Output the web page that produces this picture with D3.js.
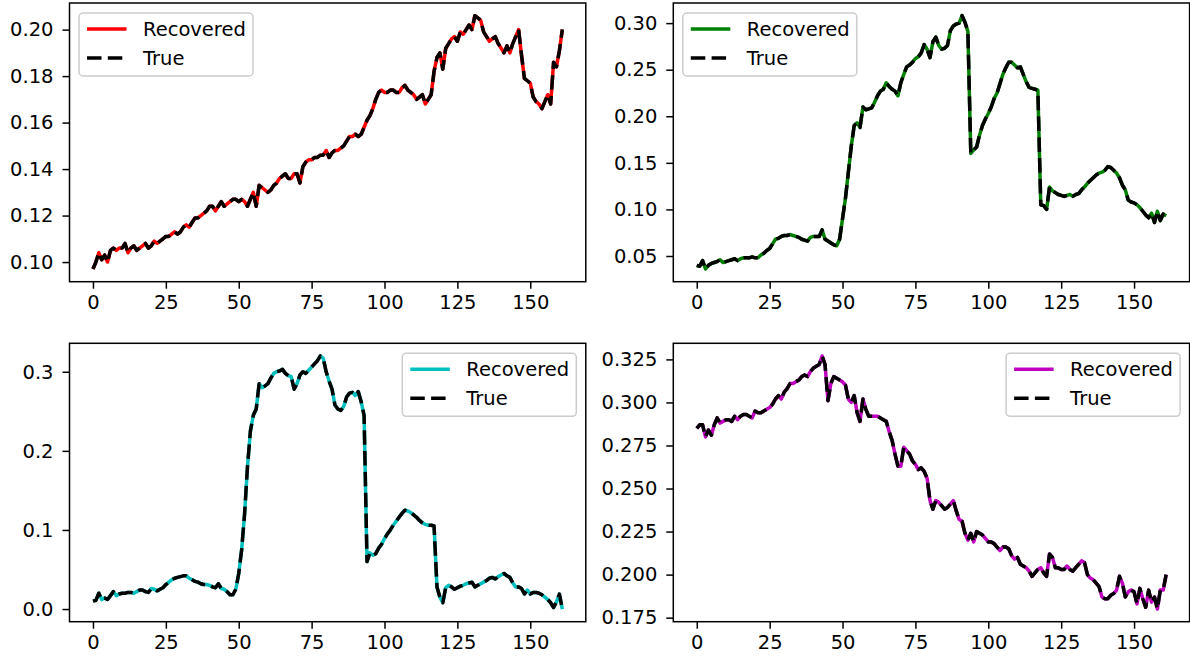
<!DOCTYPE html>
<html>
<head>
<meta charset="utf-8">
<script src="https://cdn.jsdelivr.net/npm/d3@7"></script>
<style>
  body { margin: 0; background: #fff; }
  svg { display: block; }
  text { font-family: "DejaVu Sans", sans-serif; fill: #000; }
</style>
</head>
<body>
<svg id="fig" width="1190" height="660"></svg>
<script>
// Time steps shared by all four panels
const steps = d3.range(162);
const xTicks = [0, 25, 50, 75, 100, 125, 150];
const legendLabels = ["Recovered", "True"];

// Panel 1 (red)
const seriesA = [
  0.097,0.100,0.104,0.101,0.103,0.100,0.105,0.106,0.105,0.106,
  0.106,0.108,0.104,0.106,0.107,0.105,0.106,0.107,0.108,0.106,
  0.107,0.109,0.108,0.109,0.110,0.111,0.111,0.112,0.113,0.112,
  0.113,0.115,0.116,0.115,0.117,0.119,0.119,0.120,0.121,0.122,
  0.124,0.124,0.122,0.124,0.126,0.124,0.125,0.126,0.127,0.127,
  0.126,0.127,0.126,0.124,0.127,0.130,0.124,0.133,0.132,0.131,
  0.130,0.131,0.133,0.134,0.136,0.137,0.138,0.136,0.136,0.138,
  0.138,0.134,0.141,0.143,0.144,0.144,0.145,0.145,0.146,0.146,
  0.148,0.145,0.147,0.148,0.148,0.149,0.150,0.152,0.154,0.154,
  0.155,0.154,0.155,0.158,0.161,0.163,0.166,0.170,0.173,0.174,
  0.173,0.173,0.174,0.174,0.173,0.173,0.175,0.176,0.174,0.173,
  0.172,0.170,0.171,0.172,0.168,0.170,0.172,0.182,0.188,0.190,
  0.183,0.192,0.194,0.196,0.197,0.195,0.199,0.198,0.200,0.202,
  0.200,0.206,0.205,0.204,0.199,0.197,0.195,0.196,0.197,0.194,
  0.192,0.190,0.193,0.190,0.194,0.197,0.200,0.189,0.179,0.178,
  0.177,0.171,0.169,0.168,0.166,0.169,0.172,0.168,0.186,0.184,
  0.191,0.200
];

// Panel 2 (green)
const seriesB = [
  0.040,0.039,0.045,0.036,0.040,0.042,0.043,0.044,0.046,0.043,
  0.044,0.045,0.046,0.047,0.045,0.047,0.048,0.048,0.048,0.049,
  0.048,0.048,0.051,0.053,0.056,0.058,0.063,0.068,0.069,0.071,
  0.072,0.072,0.073,0.072,0.071,0.070,0.068,0.067,0.066,0.070,
  0.071,0.071,0.071,0.078,0.068,0.066,0.064,0.062,0.061,0.068,
  0.090,0.112,0.140,0.168,0.190,0.193,0.188,0.210,0.207,0.208,
  0.209,0.215,0.222,0.227,0.229,0.236,0.232,0.229,0.227,0.222,
  0.236,0.245,0.253,0.255,0.258,0.262,0.264,0.268,0.277,0.272,
  0.263,0.280,0.285,0.276,0.272,0.273,0.276,0.292,0.297,0.299,
  0.300,0.308,0.301,0.291,0.160,0.164,0.167,0.180,0.190,0.197,
  0.203,0.210,0.219,0.225,0.235,0.245,0.252,0.258,0.258,0.255,
  0.252,0.253,0.245,0.237,0.231,0.230,0.229,0.228,0.105,0.104,
  0.100,0.124,0.120,0.118,0.116,0.115,0.114,0.115,0.116,0.114,
  0.116,0.117,0.121,0.124,0.128,0.131,0.134,0.137,0.139,0.140,
  0.142,0.146,0.145,0.142,0.139,0.134,0.126,0.121,0.110,0.108,
  0.107,0.105,0.102,0.098,0.094,0.091,0.096,0.086,0.098,0.088,
  0.095,0.093
];

// Panel 3 (cyan)
const seriesC = [
  0.010,0.011,0.020,0.012,0.014,0.012,0.017,0.022,0.017,0.019,
  0.020,0.020,0.021,0.021,0.020,0.022,0.024,0.024,0.022,0.021,
  0.026,0.025,0.023,0.025,0.027,0.031,0.034,0.037,0.039,0.040,
  0.041,0.042,0.042,0.039,0.037,0.035,0.034,0.032,0.031,0.031,
  0.030,0.028,0.027,0.032,0.026,0.025,0.022,0.018,0.018,0.025,
  0.045,0.075,0.120,0.180,0.225,0.245,0.253,0.285,0.280,0.282,
  0.285,0.292,0.298,0.300,0.301,0.303,0.298,0.295,0.294,0.278,
  0.285,0.296,0.300,0.298,0.302,0.306,0.310,0.314,0.320,0.317,
  0.300,0.288,0.278,0.258,0.253,0.251,0.256,0.268,0.273,0.274,
  0.270,0.275,0.262,0.245,0.060,0.071,0.068,0.070,0.077,0.082,
  0.089,0.095,0.100,0.106,0.111,0.116,0.121,0.125,0.124,0.122,
  0.119,0.116,0.112,0.109,0.107,0.106,0.106,0.105,0.028,0.015,
  0.008,0.027,0.030,0.028,0.025,0.027,0.029,0.030,0.032,0.033,
  0.034,0.028,0.030,0.032,0.034,0.036,0.039,0.040,0.038,0.041,
  0.043,0.045,0.042,0.040,0.033,0.028,0.028,0.026,0.019,0.024,
  0.019,0.021,0.021,0.020,0.018,0.015,0.012,0.008,0.002,0.009,
  0.019,0.000
];

// Panel 4 (magenta)
const seriesD = [
  0.285,0.287,0.287,0.280,0.284,0.281,0.287,0.291,0.288,0.289,
  0.290,0.290,0.289,0.292,0.290,0.292,0.293,0.293,0.292,0.291,
  0.295,0.294,0.294,0.295,0.296,0.297,0.299,0.302,0.304,0.302,
  0.306,0.308,0.311,0.311,0.312,0.313,0.315,0.316,0.315,0.318,
  0.320,0.321,0.322,0.327,0.322,0.301,0.311,0.315,0.314,0.313,
  0.312,0.310,0.302,0.300,0.304,0.294,0.289,0.302,0.296,0.292,
  0.292,0.292,0.292,0.291,0.290,0.289,0.283,0.278,0.270,0.263,
  0.263,0.274,0.272,0.270,0.266,0.264,0.261,0.262,0.260,0.256,
  0.243,0.238,0.243,0.242,0.240,0.238,0.239,0.241,0.243,0.237,
  0.232,0.231,0.224,0.220,0.224,0.219,0.225,0.224,0.223,0.221,
  0.219,0.219,0.218,0.216,0.214,0.216,0.216,0.215,0.211,0.209,
  0.210,0.206,0.205,0.204,0.202,0.199,0.201,0.203,0.204,0.201,
  0.199,0.212,0.210,0.204,0.204,0.203,0.203,0.205,0.203,0.202,
  0.204,0.206,0.208,0.207,0.200,0.198,0.197,0.195,0.193,0.187,
  0.186,0.186,0.188,0.189,0.191,0.199,0.195,0.187,0.190,0.191,
  0.190,0.183,0.192,0.186,0.181,0.191,0.184,0.187,0.180,0.191,
  0.191,0.200
];

const yTicksA = [0.10, 0.12, 0.14, 0.16, 0.18, 0.20];
const yTicksB = [0.05, 0.10, 0.15, 0.20, 0.25, 0.30];
const yTicksC = [0.0, 0.1, 0.2, 0.3];
const yTicksD = [0.175, 0.200, 0.225, 0.250, 0.275, 0.300, 0.325];

const FONT = 19.5;

const panels = [
  { values: seriesA, color: "#ff0000", yTicks: yTicksA, fmt: d3.format(".2f"),
    box: [69.5, 3, 585.8, 281.7], legendSide: "left" },
  { values: seriesB, color: "#008000", yTicks: yTicksB, fmt: d3.format(".2f"),
    box: [673.3, 3, 1189.6, 281.7], legendSide: "left" },
  { values: seriesC, color: "#00bfbf", yTicks: yTicksC, fmt: d3.format(".1f"),
    box: [69.5, 343.3, 585.8, 621.7], legendSide: "right" },
  { values: seriesD, color: "#bf00bf", yTicks: yTicksD, fmt: d3.format(".3f"),
    box: [673.3, 343.3, 1189.6, 621.7], legendSide: "right" }
];

const svg = d3.select("#fig");

function padded(lo, hi) {
  const p = (hi - lo) * 0.05;
  return [lo - p, hi + p];
}

panels.forEach((p, k) => {
  const [x0, y0, x1, y1] = p.box;
  const x = d3.scaleLinear().domain(padded(d3.min(steps), d3.max(steps))).range([x0, x1]);
  const y = d3.scaleLinear().domain(padded(d3.min(p.values), d3.max(p.values))).range([y1, y0]);

  const g = svg.append("g");
  const clipId = "clip" + k;
  g.append("clipPath").attr("id", clipId)
    .append("rect").attr("x", x0).attr("y", y0).attr("width", x1 - x0).attr("height", y1 - y0);

  const line = d3.line().x((d, i) => x(steps[i])).y(d => y(d));

  const plot = g.append("g").attr("clip-path", `url(#${clipId})`);
  plot.append("path").datum(p.values)
    .attr("d", line).attr("fill", "none")
    .attr("stroke", p.color).attr("stroke-width", 3.5)
    .attr("stroke-linejoin", "round");
  plot.append("path").datum(p.values)
    .attr("d", line).attr("fill", "none")
    .attr("stroke", "#000").attr("stroke-width", 3.5)
    .attr("stroke-dasharray", "14.5,6.3")
    .attr("stroke-linejoin", "round");

  // axes
  const ax = g.append("g").attr("transform", `translate(0,${y1})`)
    .call(d3.axisBottom(x).tickValues(xTicks).tickFormat(d3.format("d")).tickSize(7).tickPadding(6.5));
  const ay = g.append("g").attr("transform", `translate(${x0},0)`)
    .call(d3.axisLeft(y).tickValues(p.yTicks).tickFormat(p.fmt).tickSize(7).tickPadding(9));
  [ax, ay].forEach(a => {
    a.select(".domain").remove();
    a.selectAll(".tick line").attr("stroke", "#000").attr("stroke-width", 1.5);
    a.selectAll(".tick text").attr("font-size", FONT).attr("font-family", "DejaVu Sans");
  });

  g.append("rect").attr("x", x0).attr("y", y0).attr("width", x1 - x0).attr("height", y1 - y0)
    .attr("fill", "none").attr("stroke", "#000").attr("stroke-width", 1.5);

  // legend
  const lw = 174, lh = 63;
  const lx = p.legendSide === "left" ? x0 + 9.5 : x1 - 9.5 - lw;
  const ly = y0 + 10;
  const lg = g.append("g").attr("transform", `translate(${lx},${ly})`);
  lg.append("rect").attr("width", lw).attr("height", lh).attr("rx", 4).attr("ry", 4)
    .attr("fill", "#fff").attr("fill-opacity", 0.8)
    .attr("stroke", "#cccccc").attr("stroke-width", 1.5);
  const rows = [16, 45];
  legendLabels.forEach((lab, j) => {
    const h = lg.append("line").attr("x1", 8).attr("x2", 47.5)
      .attr("y1", rows[j]).attr("y2", rows[j])
      .attr("stroke", j === 0 ? p.color : "#000").attr("stroke-width", 3.5);
    if (j === 1) h.attr("stroke-dasharray", "14.5,6.3");
    lg.append("text").attr("x", 64).attr("y", rows[j]).attr("dy", "0.36em")
      .attr("font-size", FONT).text(lab);
  });
});
</script>
</body>
</html>
